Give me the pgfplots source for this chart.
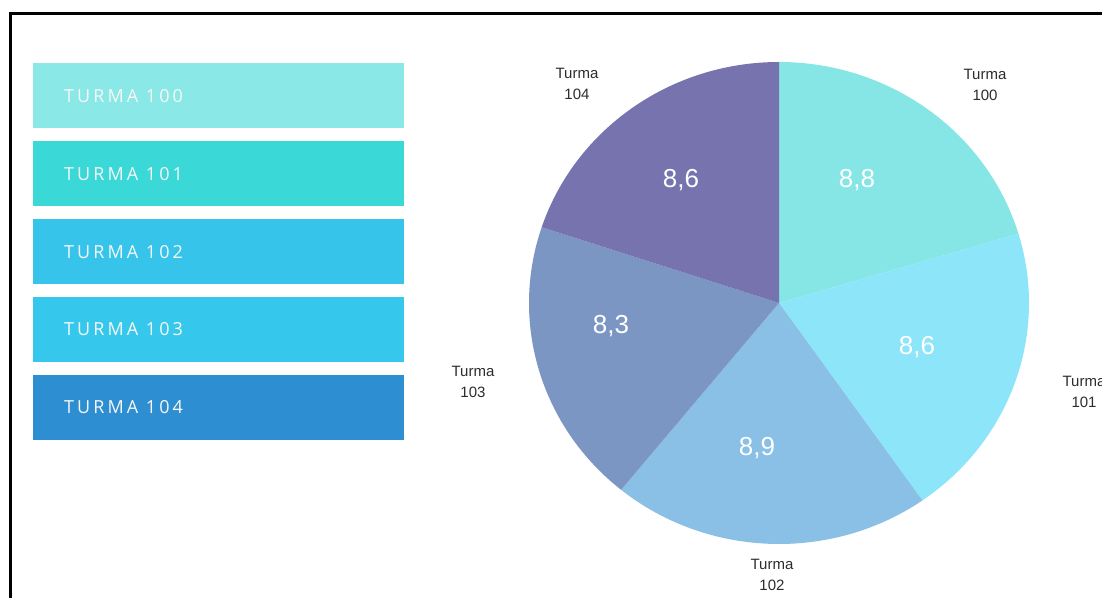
\documentclass[border=0pt]{standalone}
\usepackage{pgfplots}
\pgfplotsset{compat=1.18}
\usepackage{pgfplotstable}
\usepackage{fontspec}
\setmainfont{Liberation Sans}
\newfontfamily\legfont[LetterSpace=17]{Open Sans}

\definecolor{s100}{RGB}{134,230,230}
\definecolor{s101}{RGB}{141,229,250}
\definecolor{s102}{RGB}{138,191,230}
\definecolor{s103}{RGB}{124,150,195}
\definecolor{s104}{RGB}{119,115,174}
\definecolor{l100}{RGB}{138,232,230}
\definecolor{l101}{RGB}{58,216,214}
\definecolor{l102}{RGB}{54,196,234}
\definecolor{l103}{RGB}{54,199,236}
\definecolor{l104}{RGB}{45,142,210}
\definecolor{lab}{RGB}{45,45,45}

\pgfplotstableread{
turma value
100 8.8
101 8.6
102 8.9
103 8.3
104 8.6
}\pietable

\pgfplotstablegetelem{0}{value}\of\pietable \let\vA\pgfplotsretval
\pgfplotstablegetelem{1}{value}\of\pietable \let\vB\pgfplotsretval
\pgfplotstablegetelem{2}{value}\of\pietable \let\vC\pgfplotsretval
\pgfplotstablegetelem{3}{value}\of\pietable \let\vD\pgfplotsretval
\pgfplotstablegetelem{4}{value}\of\pietable \let\vE\pgfplotsretval
\pgfmathsetmacro\tot{\vA+\vB+\vC+\vD+\vE}
\pgfmathsetmacro\aA{90}
\pgfmathsetmacro\aB{\aA-360*\vA/\tot}
\pgfmathsetmacro\aC{\aB-360*\vB/\tot}
\pgfmathsetmacro\aD{\aC-360*\vC/\tot}
\pgfmathsetmacro\aE{\aD-360*\vD/\tot}
\pgfmathsetmacro\aF{\aE-360*\vE/\tot}

\def\cx{779}
\def\cy{294}
\def\rx{250}
\def\ry{241}

\newcommand{\slice}[3]{%
  \fill[#1] (axis cs:\cx,\cy) -- (axis cs:{\cx+\rx*cos(#2)},{\cy+\ry*sin(#2)})
    arc[start angle=#2, end angle=#3, x radius=\rx pt, y radius=\ry pt] -- cycle;}

\begin{document}
\begin{tikzpicture}
\useasboundingbox (0,0) rectangle (1102pt,597pt);
\clip (0,0) rectangle (1102pt,597pt);
\fill[white] (0,0) rectangle (1102pt,597pt);
\begin{axis}[
  at={(0,0)}, anchor=south west,
  x=1pt, y=1pt,
  xmin=0, xmax=1102, ymin=0, ymax=597,
  hide axis, clip=false,
]
% legend boxes
\fill[l100] (axis cs:33,469) rectangle (axis cs:404,534);
\fill[l101] (axis cs:33,391) rectangle (axis cs:404,456);
\fill[l102] (axis cs:33,313) rectangle (axis cs:404,378);
\fill[l103] (axis cs:33,235) rectangle (axis cs:404,300);
\fill[l104] (axis cs:33,157) rectangle (axis cs:404,222);
\node[anchor=west, inner sep=0pt, text=white!94!gray, font=\legfont\fontsize{18}{20}\selectfont] at (axis cs:64,501) {TURMA 100};
\node[anchor=west, inner sep=0pt, text=white!94!gray, font=\legfont\fontsize{18}{20}\selectfont] at (axis cs:64,423) {TURMA 101};
\node[anchor=west, inner sep=0pt, text=white!94!gray, font=\legfont\fontsize{18}{20}\selectfont] at (axis cs:64,345) {TURMA 102};
\node[anchor=west, inner sep=0pt, text=white!94!gray, font=\legfont\fontsize{18}{20}\selectfont] at (axis cs:64,268) {TURMA 103};
\node[anchor=west, inner sep=0pt, text=white!94!gray, font=\legfont\fontsize{18}{20}\selectfont] at (axis cs:64,190) {TURMA 104};
% pie
\slice{s100}{\aA}{\aB}
\slice{s101}{\aB}{\aC}
\slice{s102}{\aC}{\aD}
\slice{s103}{\aD}{\aE}
\slice{s104}{\aE}{\aF}
% value labels
\node[text=white, font=\fontsize{26}{30}\selectfont] at (axis cs:857,417) {8,8};
\node[text=white, font=\fontsize{26}{30}\selectfont] at (axis cs:917,250) {8,6};
\node[text=white, font=\fontsize{26}{30}\selectfont] at (axis cs:757,149) {8,9};
\node[text=white, font=\fontsize{26}{30}\selectfont] at (axis cs:611,271) {8,3};
\node[text=white, font=\fontsize{26}{30}\selectfont] at (axis cs:681,417) {8,6};
% outer labels
\node[text=lab, align=center, font=\fontsize{15}{21}\selectfont] at (axis cs:985,512) {Turma\\100};
\node[text=lab, align=center, font=\fontsize{15}{21}\selectfont] at (axis cs:1084,205) {Turma\\101};
\node[text=lab, align=center, font=\fontsize{15}{21}\selectfont] at (axis cs:772,22) {Turma\\102};
\node[text=lab, align=center, font=\fontsize{15}{21}\selectfont] at (axis cs:473,215) {Turma\\103};
\node[text=lab, align=center, font=\fontsize{15}{21}\selectfont] at (axis cs:577,513) {Turma\\104};
% frame
\draw[line width=3pt, black] (axis cs:10,-10) -- (axis cs:10,583) -- (axis cs:1115,583);
\end{axis}
\end{tikzpicture}
\end{document}
